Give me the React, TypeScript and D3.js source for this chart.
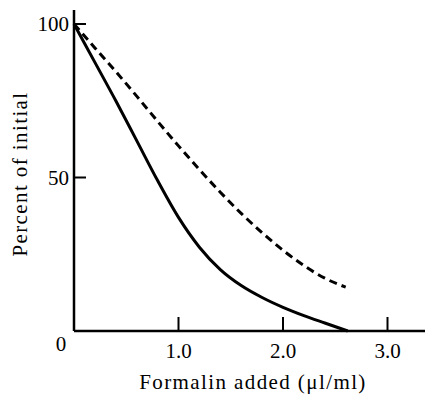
import React, { useEffect, useRef } from "react";
import * as d3 from "d3";

// formalin added (ul/ml) vs percent of initial
const solidX = [0, 0.2, 0.4, 0.6, 0.8, 1.0, 1.2, 1.4, 1.6, 1.8, 2.0, 2.2, 2.4, 2.62];
const solidY = [100, 87.5, 75, 62, 49, 37, 27.3, 20, 14.8, 10.9, 7.7, 5, 2.6, 0];

const dashedX = [0, 0.2, 0.4, 0.6, 0.8, 1.0, 1.2, 1.4, 1.6, 1.8, 2.0, 2.2, 2.4, 2.6];
const dashedY = [100, 92.2, 84.5, 76.5, 68.3, 60.3, 52.6, 45.2, 38.3, 32, 26.3, 21.3, 17.2, 14.3];

const xTicks = [1, 2, 3];
const xTickLabels = ["1.0", "2.0", "3.0"];
const yTicks = [50, 100];

const App = () => {
  const svgRef = useRef<SVGSVGElement>(null);

  useEffect(() => {
    const svg = d3.select(svgRef.current);
    svg.selectAll("*").remove();

    const font = "'Liberation Serif', 'DejaVu Serif', serif";
    const x = d3.scaleLinear().domain([0, 3]).range([74, 387.5]);
    const y = d3.scaleLinear().domain([0, 100]).range([331, 24]);

    const g = svg.append("g");

    // axes
    g.append("line")
      .attr("x1", x(0)).attr("x2", 425)
      .attr("y1", y(0)).attr("y2", y(0))
      .attr("stroke", "#000").attr("stroke-width", 2.5);
    g.append("line")
      .attr("x1", x(0)).attr("x2", x(0))
      .attr("y1", 10).attr("y2", y(0))
      .attr("stroke", "#000").attr("stroke-width", 2.5);

    // x ticks point up into the plot
    xTicks.forEach((t, i) => {
      g.append("line")
        .attr("x1", x(t)).attr("x2", x(t))
        .attr("y1", y(0)).attr("y2", y(0) - 14)
        .attr("stroke", "#000").attr("stroke-width", 2);
      g.append("text")
        .attr("x", x(t)).attr("y", 358)
        .attr("text-anchor", "middle")
        .style("font-family", font).style("font-size", "21px")
        .text(xTickLabels[i]);
    });

    yTicks.forEach(t => {
      g.append("line")
        .attr("x1", x(0)).attr("x2", x(0) + 12)
        .attr("y1", y(t)).attr("y2", y(t))
        .attr("stroke", "#000").attr("stroke-width", 2);
      g.append("text")
        .attr("x", 69).attr("y", y(t) + 7)
        .attr("text-anchor", "end")
        .style("font-family", font).style("font-size", "21px")
        .text(String(t));
    });

    g.append("text")
      .attr("x", 61).attr("y", 351)
      .attr("text-anchor", "middle")
      .style("font-family", font).style("font-size", "21px")
      .text("0");

    // axis titles
    g.append("text")
      .attr("x", 253).attr("y", 389)
      .attr("text-anchor", "middle")
      .style("font-family", font).style("font-size", "21px")
      .style("letter-spacing", "1.4px")
      .text("Formalin added (\u03bcl/ml)");
    g.append("text")
      .attr("transform", `translate(27, 174) rotate(-90)`)
      .attr("text-anchor", "middle")
      .style("font-family", font).style("font-size", "21px")
      .style("letter-spacing", "1.4px")
      .text("Percent of initial");

    const line = d3.line<[number, number]>()
      .x(d => x(d[0]))
      .y(d => y(d[1]))
      .curve(d3.curveMonotoneX);

    g.append("path")
      .datum(solidX.map((v, i) => [v, solidY[i]] as [number, number]))
      .attr("d", line)
      .attr("fill", "none")
      .attr("stroke", "#000")
      .attr("stroke-width", 3);

    g.append("path")
      .datum(dashedX.map((v, i) => [v, dashedY[i]] as [number, number]))
      .attr("d", line)
      .attr("fill", "none")
      .attr("stroke", "#000")
      .attr("stroke-width", 3)
      .attr("stroke-dasharray", "8,5");
  }, []);

  return (
    <svg
      ref={svgRef}
      width={425}
      height={395}
      style={{ position: "absolute", left: 0, top: 0, background: "#fff" }}
    />
  );
};

export default App;
